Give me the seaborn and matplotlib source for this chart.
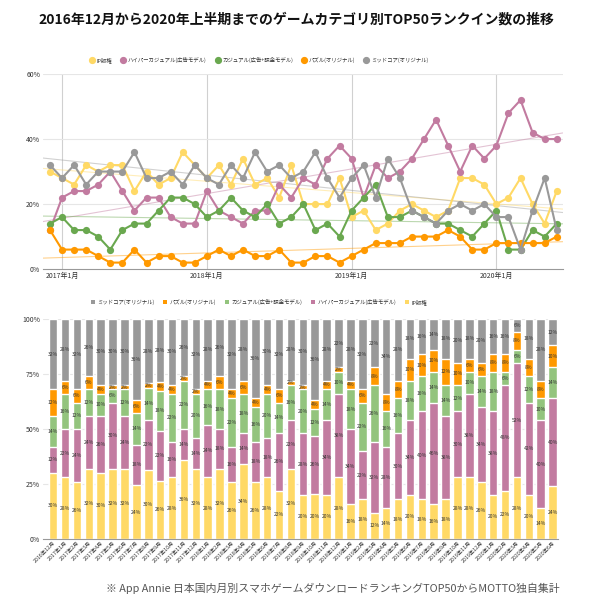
import matplotlib.pyplot as plt
import numpy as np
import pandas as pd
import seaborn as sns
from matplotlib.lines import Line2D
from matplotlib.patches import Patch

sns.set_theme(style="white")
plt.rcParams['font.family'] = ['Noto Sans CJK JP', 'DejaVu Sans']

# Data: share of TOP50 (%) per month, 2016/12 - 2020/6
months = ["2016年12月"] + [f"{y}年{m}月" for y in (2017, 2018, 2019) for m in range(1, 13)] \
    + [f"2020年{m}月" for m in range(1, 7)]
categories = ['IP版権', 'ハイパーカジュアル(広告モデル)', 'カジュアル(広告+課金モデル)',
              'パズル(オリジナル)', 'ミッドコア(オリジナル)']
ip = [30, 28, 26, 32, 30, 32, 32, 24, 30, 26, 28, 36, 32, 28, 32, 26, 34, 26, 28, 22, 32, 20,
      20, 20, 28, 16, 18, 12, 14, 18, 20, 18, 16, 18, 28, 28, 26, 20, 22, 28, 20, 14, 24]
hyper = [12, 22, 24, 24, 26, 30, 24, 18, 22, 22, 16, 14, 14, 24, 18, 16, 14, 18, 18, 26, 22, 28,
         26, 34, 38, 34, 22, 32, 28, 30, 34, 40, 46, 38, 30, 38, 34, 38, 48, 52, 42, 40, 40]
casual = [14, 16, 12, 12, 10, 6, 12, 14, 14, 18, 22, 22, 20, 16, 18, 22, 18, 16, 20, 14, 16, 20,
          12, 14, 10, 18, 22, 26, 16, 16, 18, 16, 14, 14, 12, 10, 14, 18, 6, 6, 12, 10, 14]
puzzle = [12, 6, 6, 6, 4, 2, 2, 6, 2, 4, 4, 2, 2, 4, 6, 4, 6, 4, 4, 6, 2, 2,
          4, 4, 2, 4, 6, 8, 8, 8, 10, 10, 10, 12, 10, 6, 6, 8, 8, 8, 8, 8, 10]
midcore = [32, 28, 32, 26, 30, 30, 30, 36, 28, 28, 30, 26, 32, 28, 26, 32, 28, 36, 30, 32, 28, 30,
           36, 28, 22, 28, 32, 22, 34, 28, 18, 16, 14, 18, 20, 18, 20, 16, 16, 6, 18, 28, 12]
year_ticks = ["2017年1月", "2018年1月", "2019年1月", "2020年1月"]

series = [ip, hyper, casual, puzzle, midcore]
line_colors = ['#FFD966', '#C27BA0', '#6AA84F', '#FF9900', '#999999']
bar_colors = ['#FFD966', '#C27BA0', '#93C47D', '#FF9900', '#999999']

df = pd.DataFrame({'month': months})
for cat, vals in zip(categories, series):
    df[cat] = np.array(vals) / 100
df['idx'] = np.arange(len(months))
long = df.melt(id_vars=['month', 'idx'], value_vars=categories, var_name='category', value_name='share')

fig = plt.figure(figsize=(5.93, 6.02), dpi=100)
fig.patch.set_facecolor('white')

fig.text(0.5, 0.967, '2016年12月から2020年上半期までのゲームカテゴリ別TOP50ランクイン数の推移',
         ha='center', va='center', fontsize=10, fontweight='bold', color='#111111')

# ---- line chart ----
ax1 = fig.add_axes([0.0725, 0.553, 0.8765, 0.324])
xlim = (-0.58, 42.5)
tick_pos = [months.index(t) for t in year_ticks]
for p in tick_pos:
    ax1.axvline(p, color='#d0d0d0', lw=0.8, zorder=0)
for y in [0.2, 0.4, 0.6]:
    ax1.axhline(y, color='#e6e6e6', lw=0.8, zorder=0)

# trend lines
xs = np.array(xlim)
for cat, col in zip(categories, line_colors):
    k, b = np.polyfit(df['idx'], df[cat], 1)
    ax1.plot(xs, k * xs + b, color=col, lw=0.8, alpha=0.45, zorder=1)

sns.lineplot(data=long, x='idx', y='share', hue='category', hue_order=categories,
             palette=line_colors, marker='o', markersize=5.2, markeredgewidth=0,
             linewidth=1.5, ax=ax1, legend=False, zorder=3)

ax1.set_xlim(*xlim)
ax1.set_ylim(0, 0.6)
ax1.set_yticks([0, 0.2, 0.4, 0.6])
ax1.set_yticklabels(['0%', '20%', '40%', '60%'])
ax1.set_xticks(tick_pos)
ax1.set_xticklabels(year_ticks)
ax1.tick_params(axis='both', labelsize=5, length=0, pad=2, colors='#333333')
ax1.set_xlabel('')
ax1.set_ylabel('')
for s in ['top', 'right', 'left']:
    ax1.spines[s].set_visible(False)
ax1.spines['bottom'].set_color('#999999')
ax1.spines['bottom'].set_linewidth(0.8)
ax1.set_facecolor('none')

h1 = [Line2D([0], [0], marker='o', ls='', color=c, markersize=4.2) for c in line_colors]
fig.legend(h1, categories, loc='center', bbox_to_anchor=(0.437, 0.9), ncol=5, frameon=False,
           fontsize=3.9, handlelength=0.8, handletextpad=0.5, columnspacing=1.6,
           labelcolor='#333333')

# ---- stacked 100% bar chart ----
ax2 = fig.add_axes([0.0725, 0.1047, 0.8685, 0.3655])
for y in [0.25, 0.5, 0.75, 1.0]:
    ax2.axhline(y, color='#e6e6e6', lw=0.8, zorder=0)

vals = np.array(series, dtype=float)
shares = vals / vals.sum(axis=0)
cum = np.cumsum(shares, axis=0)
for i in range(len(categories) - 1, -1, -1):
    sns.barplot(x=months, y=cum[i], color=bar_colors[i], saturation=1, width=0.72,
                ax=ax2, zorder=2)

for i in range(len(categories)):
    centers = cum[i] - shares[i] / 2
    for j, (c, v) in enumerate(zip(centers, vals[i])):
        ax2.text(j, c, f"{int(v)}%", ha='center', va='center', fontsize=3.6,
                 color='#333333', zorder=4)

ax2.set_xlim(-0.85, 42.45)
ax2.set_ylim(0, 1)
ax2.set_yticks([0, 0.25, 0.5, 0.75, 1.0])
ax2.set_yticklabels(['0%', '25%', '50%', '75%', '100%'])
ax2.tick_params(axis='y', labelsize=5, length=0, pad=2, colors='#333333')
ax2.tick_params(axis='x', labelsize=3.8, length=0, pad=1, colors='#333333')
plt.setp(ax2.get_xticklabels(), rotation=45, ha='right', rotation_mode='anchor')
ax2.set_xlabel('')
ax2.set_ylabel('')
for s in ['top', 'right', 'left']:
    ax2.spines[s].set_visible(False)
ax2.spines['bottom'].set_color('#999999')
ax2.spines['bottom'].set_linewidth(0.8)
ax2.set_facecolor('none')

order2 = [4, 3, 2, 1, 0]
h2 = [Patch(facecolor=bar_colors[i], edgecolor='none') for i in order2]
fig.legend(h2, [categories[i] for i in order2], loc='center', bbox_to_anchor=(0.437, 0.498),
           ncol=5, frameon=False, fontsize=3.9, handlelength=0.7, handleheight=0.7,
           handletextpad=0.5, columnspacing=1.6, labelcolor='#333333')

fig.text(0.944, 0.023, '※ App Annie 日本国内月別スマホゲームダウンロードランキングTOP50からMOTTO独自集計',
         ha='right', va='center', fontsize=7.8, color='#555555')

fig.savefig('out.png', dpi=100)
